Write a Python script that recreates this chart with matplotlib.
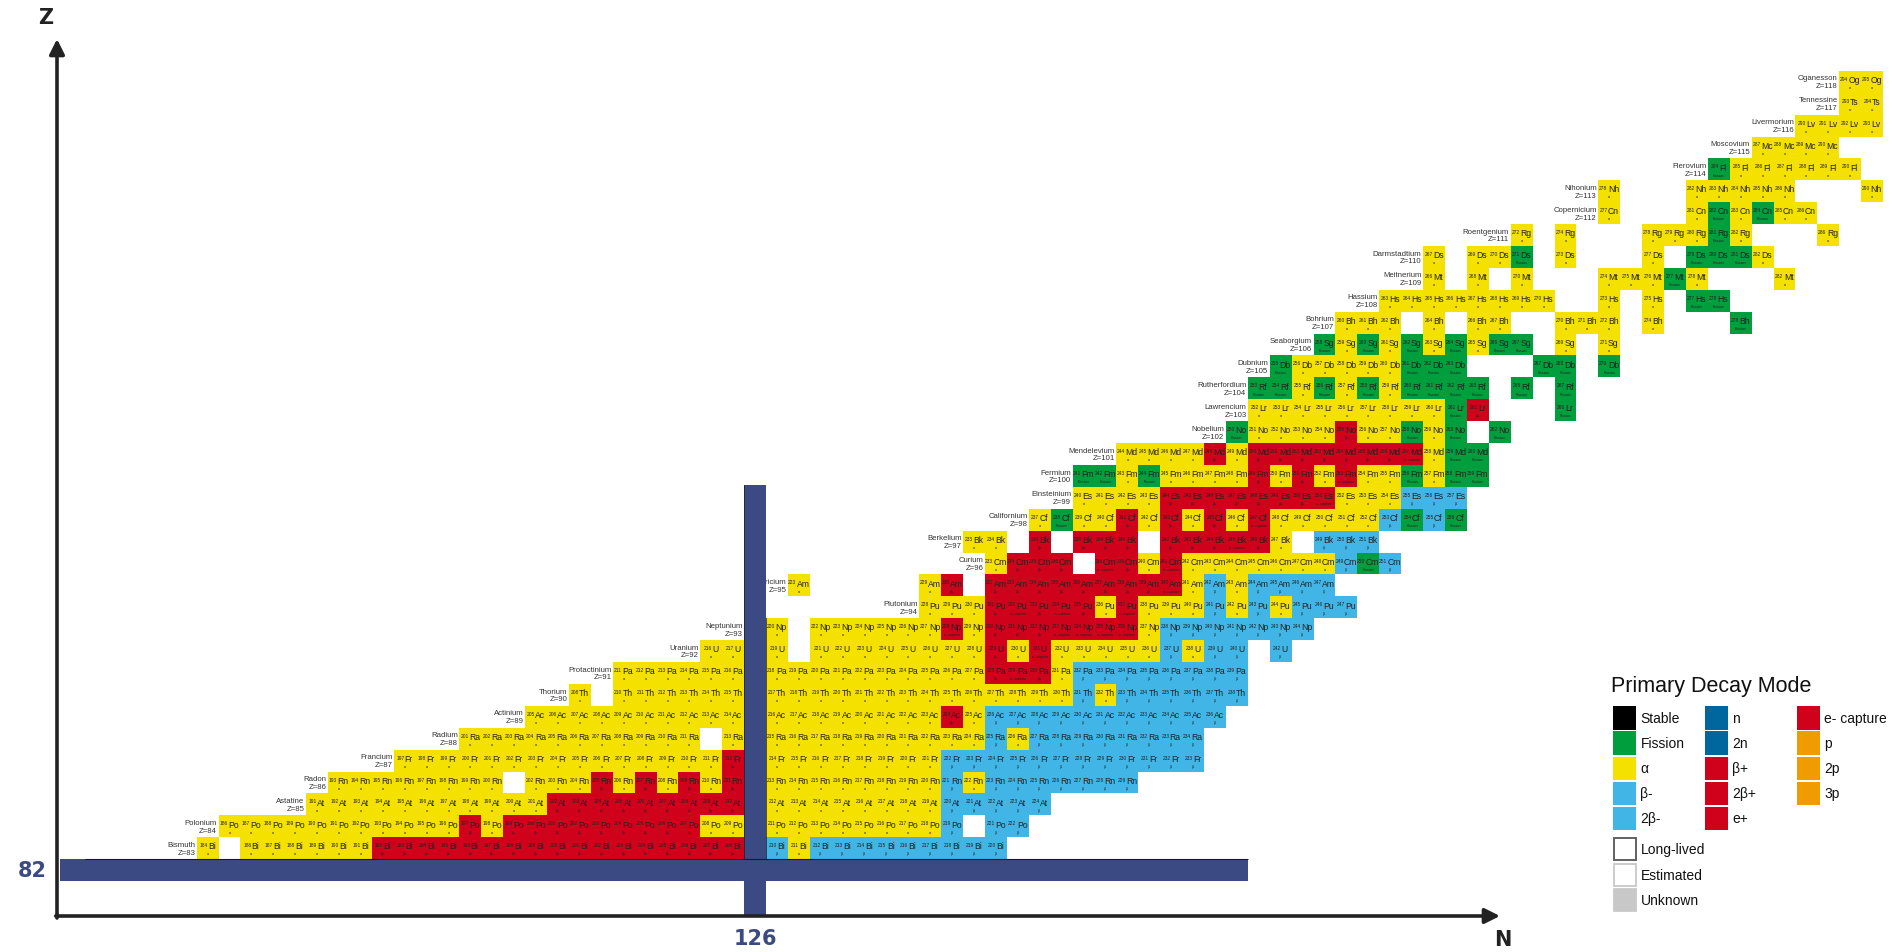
import matplotlib
matplotlib.use("Agg")
import matplotlib.pyplot as plt
from matplotlib.patches import Rectangle
from matplotlib.font_manager import FontProperties

plt.rcParams["font.family"] = ["Liberation Sans", "DejaVu Sans"]

# ---------------------------------------------------------------------------
# Nuclide data: one row per element. For each element the mass number of the
# first listed isotope and a string of primary decay modes for consecutive
# mass numbers.  a = alpha, b = beta-, p = beta+, e = electron capture,
# f = spontaneous fission, . = no entry
# ---------------------------------------------------------------------------
atomic_numbers = list(range(83, 119))
symbols = ["Bi", "Po", "At", "Rn", "Fr", "Ra", "Ac", "Th", "Pa", "U", "Np", "Pu",
           "Am", "Cm", "Bk", "Cf", "Es", "Fm", "Md", "No", "Lr", "Rf", "Db", "Sg",
           "Bh", "Hs", "Mt", "Ds", "Rg", "Cn", "Nh", "Fl", "Mc", "Lv", "Ts", "Og"]
names = ["Bismuth", "Polonium", "Astatine", "Radon", "Francium", "Radium",
         "Actinium", "Thorium", "Protactinium", "Uranium", "Neptunium",
         "Plutonium", "Americium", "Curium", "Berkelium", "Californium",
         "Einsteinium", "Fermium", "Mendelevium", "Nobelium", "Lawrencium",
         "Rutherfordium", "Dubnium", "Seaborgium", "Bohrium", "Hassium",
         "Meitnerium", "Darmstadtium", "Roentgenium", "Copernicium", "Nihonium",
         "Flerovium", "Moscovium", "Livermorium", "Tennessine", "Oganesson"]
first_mass = [184, 186, 191, 193, 197, 201, 205, 208, 211, 216, 219, 228,
              223, 233, 233, 237, 240, 241, 244, 250, 252, 253, 255, 258,
              260, 263, 266, 267, 272, 277, 278, 284, 287, 290, 293, 294]
decay_modes = [
    "a.aaaaaapppppppppppppppppababbbbbbbbb",      # Bi
    "aaaaaaaaaaapapppppppppaaaaaaaaaaab.bb",      # Po
    "aaaaaaaaaaapppppppppaaaaaaaaabbbbb",         # At
    "aaaaaaaa.aaapapapapaaaaaaaaababbbbbbb",      # Rn
    "aaaaaaaaaaaaaaapaaaaaaaaabbbbbbbbbbbb",      # Fr
    "aaaaaaaaaaa.aaaaaaaaaaaababbbbbbbb",         # Ra
    "aaaaaaaaaaaaaaaaaaapabbbbbbbbbbb",           # Ac
    "a.aaaaaaaaaaaaaaaaaaaaababbbbbb",            # Th
    "aaaaaaaaaaaaaaaaapepabbbbbbbb",              # Pa
    "aaaa.aaaaaaaapaeaaaaababb.b",                # U
    "aa.aaaaaaeapppeeeeabbbbbbb",                 # Np
    "aaapepepaeaaabababbb",                       # Pu
    "a.....ap.ppppppppeababbbb",                  # Am
    "appp.epaeaaaaaaabfb",                        # Cm
    "aa.p.ppp.pppepa.bbb",                        # Bk
    "afaapapapaeaaaaabfbf",                       # Cf
    "aaaapppppppeaaabbb",                         # Es
    "ffafaaaapapaeaafaff",                        # Fm
    "aaaapapppppppeaff",                          # Md
    "faaaapaafaf.f",                              # No
    "aaaaaaaaafp...f",                            # Lr
    "ffafafaffff.f.f",                            # Rf
    "faaaaafff...ff.f",                           # Db
    "fafafafaff.a.a",                             # Sg
    "aaa.a.aa..aaa.a...f",                        # Bh
    "aaaaaaaa..a.a.ff",                           # Hs
    "a.a.a...aaafa...a",                          # Mt
    "a.aaf.a...a.fffa",                           # Ds
    "a.a...aaafa...a",                            # Rg
    "a...afafaa",                                 # Cn
    "a...aaaaa...a",                              # Nh
    "faaaaaa",                                    # Fl
    "aaaa",                                       # Mc
    "aaaa",                                       # Lv
    "aa",                                         # Ts
    "aa",                                         # Og
]

mode_colors = {"a": "#F5E100", "b": "#41B6E6", "p": "#D0021B",
               "e": "#D0021B", "f": "#009E3D"}
mode_labels = {"a": "α", "b": "β-", "p": "β+", "e": "e- capture",
               "f": "Fission"}

magic_z = 82
magic_n = 126

legend_cols = [
    [("Stable", "#000000"), ("Fission", "#009E3D"), ("α", "#F5E100"),
     ("β-", "#41B6E6"), ("2β-", "#41B6E6")],
    [("n", "#00679E"), ("2n", "#00679E"), ("β+", "#D0021B"),
     ("2β+", "#D0021B"), ("e+", "#D0021B")],
    [("e- capture", "#D0021B"), ("p", "#F09C00"), ("2p", "#F09C00"),
     ("3p", "#F09C00")],
]
legend_extra = [("Long-lived", "white", "#555555"),
                ("Estimated", "white", "#C8C8C8"),
                ("Unknown", "#C8C8C8", "#C8C8C8")]

BAR = "#3B4A82"
INK = "#222222"

W, H, DPI = 1899, 953, 100
fig = plt.figure(figsize=(W / DPI, H / DPI), dpi=DPI)
fig.patch.set_facecolor("white")

# chart axes: one unit = one nuclide cell
ax = fig.add_axes([0, 0, 1, 1])
ax.set_xlim(91.52, 178.23)
ax.set_ylim(78.26, 121.78)
ax.axis("off")

renderer = fig.canvas.get_renderer()
fp_sym = FontProperties(family="Liberation Sans", size=6.2)
fp_mass = FontProperties(family="Liberation Sans", size=3.5)
_wcache = {}


def text_width(s, fp):
    key = (s, fp.get_size())
    if key not in _wcache:
        w, _, _ = renderer.get_text_width_height_descent(s, fp, ismath=False)
        _wcache[key] = w
    return _wcache[key]


for z, sym, name, a0, modes in zip(atomic_numbers, symbols, names,
                                   first_mass, decay_modes):
    first_n = None
    for i, m in enumerate(modes):
        if m == ".":
            continue
        mass = a0 + i
        n = mass - z
        if first_n is None:
            first_n = n
        ax.add_patch(Rectangle((n - 0.5, z - 0.5), 1, 1, facecolor=mode_colors[m],
                               edgecolor="none", zorder=1))
        ms = str(mass)
        wm = text_width(ms, fp_mass)
        ws = text_width(sym, fp_sym)
        jx = (wm - ws) / 2.0
        ax.annotate(ms, (n, z), xytext=(jx - 0.3, 2.0), textcoords="offset pixels",
                    ha="right", va="baseline", fontproperties=fp_mass,
                    color=INK, zorder=3)
        ax.annotate(sym, (n, z), xytext=(jx, -0.2), textcoords="offset pixels",
                    ha="left", va="baseline", fontproperties=fp_sym,
                    color=INK, zorder=3)
        ax.annotate(mode_labels[m], (n, z), xytext=(0, -6.2),
                    textcoords="offset pixels", ha="center", va="baseline",
                    fontsize=2.6, color=INK, zorder=3)
    # element name and atomic number to the left of the row
    ax.annotate(f"{name}\nZ={z}", (first_n - 0.5, z), xytext=(-1.5, 0),
                textcoords="offset pixels", ha="right", va="center",
                fontsize=5.6, color="#333333", linespacing=1.15, zorder=2)

# magic-number bands
ax.add_patch(Rectangle((magic_n - 0.5, 79.9), 1, 99.6 - 79.9, facecolor=BAR,
                       edgecolor="none", zorder=5))
ax.add_patch(Rectangle((94.25, magic_z - 0.5), 148.5 - 94.25, 1, facecolor=BAR,
                       edgecolor="none", zorder=5))
ax.plot([95.4, 148.5], [magic_z + 0.5, magic_z + 0.5], color="#1a1a1a",
        lw=0.8, zorder=6, solid_capstyle="butt")
ax.plot([magic_n - 0.5, magic_n - 0.5], [magic_z + 0.5, 99.6], color="#1a1a1a",
        lw=0.5, zorder=6)
ax.plot([magic_n + 0.5, magic_n + 0.5], [magic_z + 0.5, 93.5], color="#1a1a1a",
        lw=0.5, zorder=6)
ax.text(92.98, magic_z, str(magic_z), ha="center", va="center",
        fontsize=15, fontweight="heavy", color=BAR, family="DejaVu Sans",
        zorder=6)
ax.text(magic_n, 78.9, str(magic_n), ha="center", va="center",
        fontsize=15, fontweight="heavy", color=BAR, family="DejaVu Sans",
        zorder=6)

# overlay in pixel units for the axes arrows and the legend
ov = fig.add_axes([0, 0, 1, 1], zorder=10)
ov.set_xlim(0, W)
ov.set_ylim(H, 0)
ov.axis("off")
ov.patch.set_alpha(0)

ov.annotate("", xy=(57, 40), xytext=(57, 919),
            arrowprops=dict(arrowstyle="-|>,head_length=0.9,head_width=0.45",
                            lw=2.6, color=INK, shrinkA=0, shrinkB=0))
ov.annotate("", xy=(1500, 917), xytext=(55.7, 917),
            arrowprops=dict(arrowstyle="-|>,head_length=0.9,head_width=0.45",
                            lw=2.6, color=INK, shrinkA=0, shrinkB=0))
ov.text(46, 18, "Z", ha="center", va="center", fontsize=15,
        fontweight="heavy", color=INK, family="DejaVu Sans")
ov.text(1503, 940, "N", ha="center", va="center", fontsize=15,
        fontweight="heavy", color=INK, family="DejaVu Sans")

# legend
ov.text(1611, 687, "Primary Decay Mode", ha="left", va="center",
        fontsize=15.5, color="#111111")
col_x = [1613, 1705, 1797]
sw = 23.5
step = 25.1
top = 707.3
for cx, entries in zip(col_x, legend_cols):
    for k, (lab, col) in enumerate(entries):
        y = top + k * step
        ov.add_patch(Rectangle((cx, y), sw, sw, facecolor=col,
                               edgecolor="none"))
        ov.text(cx + sw + 4, y + sw / 2, lab, ha="left", va="center",
                fontsize=10, color="#111111")
for k, (lab, fc, ec) in enumerate(legend_extra):
    y = 838.3 + k * 25.5
    ov.add_patch(Rectangle((1614, y + 0.7), sw - 1.4, sw - 1.4, facecolor=fc,
                           edgecolor=ec, lw=1.3))
    ov.text(1613 + sw + 4, y + sw / 2, lab, ha="left", va="center",
            fontsize=10, color="#111111")

fig.savefig("out.png", dpi=DPI, facecolor="white")
